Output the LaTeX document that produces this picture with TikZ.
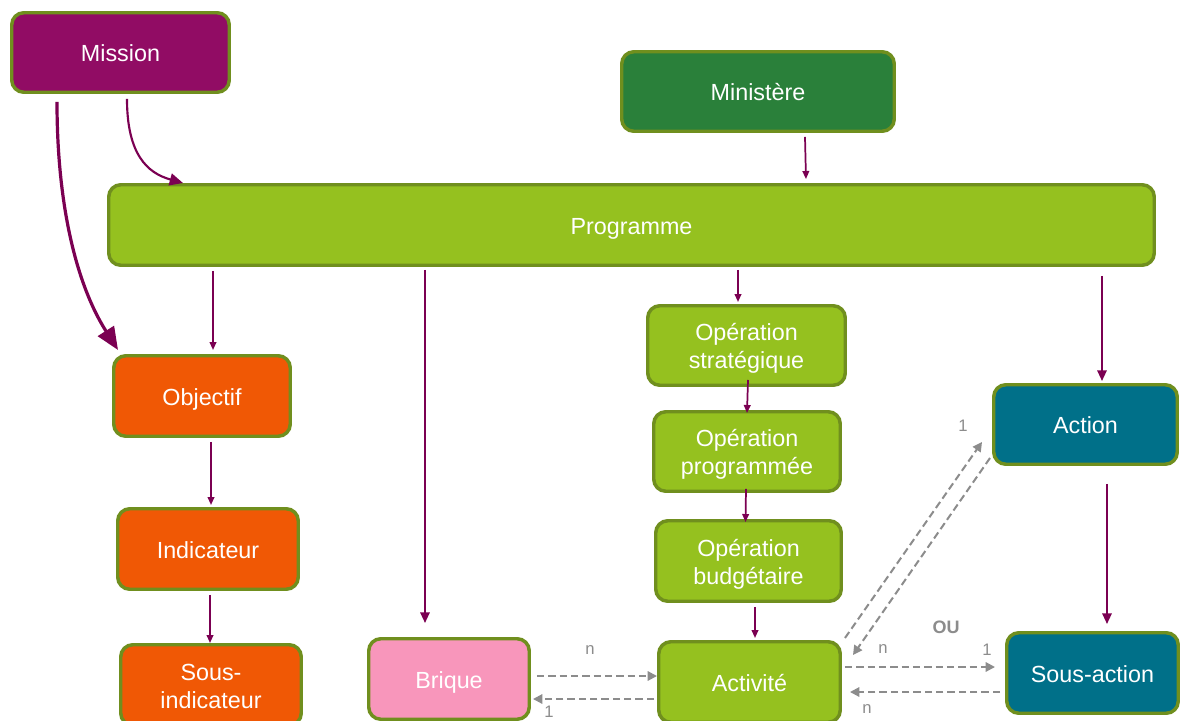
\documentclass[tikz,border=0pt]{standalone}
\usepackage{fontspec}
\setmainfont{Liberation Sans}
\usetikzlibrary{arrows.meta,calc}
\definecolor{cmission}{RGB}{145,12,100}
\definecolor{cmin}{RGB}{42,128,58}
\definecolor{cprog}{RGB}{149,193,31}
\definecolor{corange}{RGB}{240,88,5}
\definecolor{cpink}{RGB}{248,150,187}
\definecolor{cteal}{RGB}{0,112,137}
\definecolor{cborder}{RGB}{112,143,30}
\definecolor{carrow}{RGB}{123,0,82}
\definecolor{cdash}{RGB}{140,140,140}
\newdimen\pxu \pxu=0.75pt
\begin{document}
\begin{tikzpicture}[x=0.75pt,y=-0.75pt,
  box/.style={draw=cborder, line width=2.6pt, rounded corners=9pt, inner sep=0pt,
    text=white, align=center, font=\fontsize{17.5}{21}\selectfont,
    text height=13.5pt, text depth=0pt},
  box2/.style={box, text height=34.5pt},
  parr/.style={draw=carrow, line width=1.3pt, -{Triangle[length=6pt,width=5pt]}},
  parrb/.style={draw=carrow, line width=1.5pt, -{Triangle[length=8pt,width=7pt]}},
  darr/.style={draw=cdash, line width=1.5pt, dash pattern=on 5.5pt off 3pt, -{Triangle[length=7pt,width=7pt]}},
  lbl/.style={text=cdash, font=\fontsize{12.5}{14}\selectfont, inner sep=0pt}]
\useasboundingbox (0,0) rectangle (1186,721);
\clip (0,0) rectangle (1186,721);
\fill[white] (0,0) rectangle (1186,721);
% boxes
\node[box, fill=cmission, minimum width=217.5\pxu, minimum height=79.5\pxu] (mission) at (120.5,52.5) {Mission};
\node[box, fill=cmin, minimum width=272.5\pxu, minimum height=79.5\pxu] (min) at (758,91.5) {Ministère};
\node[box, fill=cprog, minimum width=1045.5\pxu, minimum height=80.5\pxu] (prog) at (631.5,225) {Programme};
\node[box, fill=corange, minimum width=176.5\pxu, minimum height=80.5\pxu] (obj) at (202,396) {Objectif};
\node[box, fill=corange, minimum width=180.5\pxu, minimum height=80.5\pxu] (ind) at (208,549) {Indicateur};
\node[box2, fill=corange, minimum width=180.5\pxu, minimum height=80.5\pxu] (sind) at (211,685) {Sous-\\indicateur};
\node[box, fill=cpink, minimum width=160.5\pxu, minimum height=80.5\pxu] (brique) at (449,679) {Brique};
\node[box2, fill=cprog, minimum width=197.5\pxu, minimum height=79.5\pxu] (ostrat) at (746.5,345.5) {Opération\\stratégique};
\node[box2, fill=cprog, minimum width=186.5\pxu, minimum height=79.5\pxu] (oprog) at (747,451.5) {Opération\\programmée};
\node[box2, fill=cprog, minimum width=185.5\pxu, minimum height=80.5\pxu] (obud) at (748.5,561) {Opération\\budgétaire};
\node[box, fill=cprog, minimum width=181.5\pxu, minimum height=80.5\pxu] (act) at (749.5,682) {Activité};
\node[box, fill=cteal, minimum width=183.5\pxu, minimum height=79.5\pxu] (action) at (1085.5,424.5) {Action};
\node[box, fill=cteal, minimum width=171.5\pxu, minimum height=80.5\pxu] (saction) at (1092.5,673) {Sous-action};
% purple arrows
\draw[carrow, line width=1.6pt, -{Triangle[length=10pt,width=9pt]}]
  ([shift={(6.5,5)}]mission.south) .. controls ([shift={(6.5,60)}]mission.south) and ([shift={(40,-10)}]prog.north west) .. ([shift={(76,0)}]prog.north west);
\draw[carrow, line width=2.4pt, -{Triangle[length=17pt,width=14pt]}]
  ([shift={(-63.5,8)}]mission.south) .. controls ([shift={(-63.5,110)}]mission.south) and ([shift={(-36,-70)}]obj.north west) .. ([shift={(6,-4)}]obj.north west);
\draw[parr] ([shift={(11,4)}]prog.south -| obj.north) -- ([shift={(11,-4)}]obj.north);
\draw[parrb] ([shift={(-24,3)}]prog.south -| brique.north) -- ([shift={(-24,-14)}]brique.north);
\draw[parr] ([shift={(47,4)}]min.south) -- ([shift={(48,-4)}]prog.north -| min.south);
\draw[parr] ([shift={(-8.5,3)}]prog.south -| ostrat.north) -- ([shift={(-8.5,-2)}]ostrat.north);
\draw[parr] ([shift={(1.5,-7)}]ostrat.south) -- ([shift={(0,3)}]oprog.north);
\draw[parr] ([shift={(-1,-4)}]oprog.south) -- ([shift={(-3,3)}]obud.north);
\draw[parr] ([shift={(6.5,4)}]obud.south) -- ([shift={(5.5,-2)}]act.north);
\draw[parrb] ([shift={(16.5,9)}]prog.south -| action.north) -- ([shift={(16.5,-2)}]action.north);
\draw[parrb] ([shift={(21.5,18)}]action.south) -- ([shift={(14.5,-7)}]saction.north);
\draw[parr] ([shift={(9,4)}]obj.south) -- ([shift={(3,-2)}]ind.north);
\draw[parr] ([shift={(2,4)}]ind.south) -- ([shift={(-1,0)}]sind.north);
% dashed arrows
\draw[darr] ([shift={(6,-3)}]brique.east) -- ([shift={(0,-6)}]act.west);
\draw[darr] ([shift={(-3,17)}]act.west) -- ([shift={(2,20)}]brique.east);
\draw[darr] ([shift={(3,-44)}]act.east) -- ([shift={(-10,17.5)}]action.west);
\draw[darr] ([shift={(-2,33.5)}]action.west) -- ([shift={(11,-27)}]act.east);
\draw[darr] ([shift={(3,-15)}]act.east) -- ([shift={(-10,-6)}]saction.west);
\draw[darr] ([shift={(-5,19)}]saction.west) -- ([shift={(8,10)}]act.east);
% labels
\node[lbl] (ln1) at (590,650) {n};
\node[lbl] (l11) at (549,712) {1};
\node[lbl] (l12) at (963,426) {1};
\node[lbl] (ln2) at (883,649) {n};
\node[lbl] (l13) at (987,650) {1};
\node[lbl] (ln3) at (867,709) {n};
\node[lbl, font=\bfseries\fontsize{13.5}{16}\selectfont] (ou) at (946,627) {OU};
\end{tikzpicture}
\end{document}
